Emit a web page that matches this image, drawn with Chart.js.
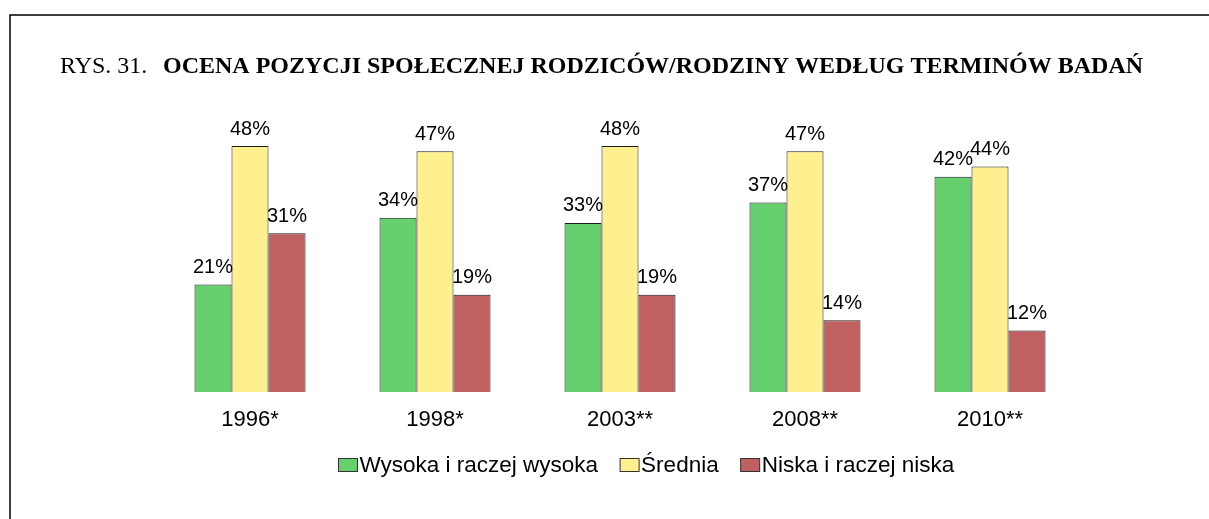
<!DOCTYPE html>
<html>
<head>
<meta charset="utf-8">
<script src="https://cdn.jsdelivr.net/npm/chart.js@4.4.1/dist/chart.umd.min.js"></script>
<style>
  html, body { margin: 0; padding: 0; background: #fff; }
  #chart1 { display: block; }
</style>
</head>
<body>
<canvas id="chart1" width="1209" height="519"></canvas>
<script>
// data
var years = ['1996*', '1998*', '2003**', '2008**', '2010**'];
var seriesNames = ['Wysoka i raczej wysoka', 'Średnia', 'Niska i raczej niska'];
var wysoka = [21, 34, 33, 37, 42];
var srednia = [48, 47, 48, 47, 44];
var niska = [31, 19, 19, 14, 12];

var colors = ['#66d06f', '#fff08f', '#c06060'];
var sans = '"Liberation Sans", Arial, sans-serif';
var serif = '"Liberation Serif", "Times New Roman", serif';

// frame, title, value labels and legend
var decorPlugin = {
    id: 'decor',
    afterDatasetsDraw: function(chart) {
        var c = chart.ctx;
        c.save();
        // value labels above bars
        c.font = '20px ' + sans;
        c.fillStyle = '#000';
        c.textAlign = 'center';
        c.textBaseline = 'alphabetic';
        chart.data.datasets.forEach(function(ds, i) {
            var meta = chart.getDatasetMeta(i);
            meta.data.forEach(function(bar, j) {
                c.fillText(ds.data[j] + '%', bar.x, bar.y - 11.5);
            });
        });
        c.restore();
    },
    afterDraw: function(chart) {
        var c = chart.ctx;
        c.save();
        // frame lines (top and left)
        c.strokeStyle = '#000';
        c.lineWidth = 1.5;
        c.beginPath();
        c.moveTo(1209, 15);
        c.lineTo(10, 15);
        c.lineTo(10, 519);
        c.stroke();

        // title
        c.fillStyle = '#000';
        c.textAlign = 'left';
        c.textBaseline = 'alphabetic';
        c.font = '24px ' + serif;
        c.fillText('RYS. 31.', 60, 72.5);
        c.font = 'bold 24px ' + serif;
        c.fillText('OCENA POZYCJI SPOŁECZNEJ RODZICÓW/RODZINY WEDŁUG TERMINÓW BADAŃ', 163, 72.5);

        // legend
        c.font = '22.5px ' + sans;
        c.textBaseline = 'alphabetic';
        var x = 338.5, y = 458.5;
        seriesNames.forEach(function(name, i) {
            c.fillStyle = colors[i];
            c.fillRect(x, y, 19, 13);
            c.strokeStyle = '#333';
            c.lineWidth = 1;
            c.strokeRect(x, y, 19, 13);
            c.fillStyle = '#000';
            c.fillText(name, x + 21, 472);
            x += 21 + c.measureText(name).width + 22;
        });
        c.restore();
    }
};

var config = {
    type: 'bar',
    data: {
        labels: years,
        datasets: [
            { label: seriesNames[0], data: wysoka, backgroundColor: colors[0] },
            { label: seriesNames[1], data: srednia, backgroundColor: colors[1] },
            { label: seriesNames[2], data: niska, backgroundColor: colors[2] }
        ].map(function(ds) {
            ds.borderColor = '#1a1a1a';
            ds.borderWidth = 1;
            ds.categoryPercentage = 0.6;
            ds.barPercentage = 1.0;
            return ds;
        })
    },
    options: {
        responsive: false,
        animation: false,
        events: [],
        layout: {
            padding: { left: 157.5, right: 126.5, top: 84.5, bottom: 67 }
        },
        plugins: {
            legend: { display: false },
            title: { display: false },
            tooltip: { enabled: false }
        },
        scales: {
            x: {
                grid: { display: false, drawTicks: false },
                border: { display: false },
                ticks: {
                    color: '#000',
                    padding: 15,
                    font: { family: sans, size: 22 }
                },
                afterFit: function(scale) { scale.height = 60; }
            },
            y: {
                display: false,
                min: 0,
                max: 60
            }
        }
    },
    plugins: [decorPlugin]
};

var chart1 = new Chart(document.getElementById('chart1'), config);
</script>
</body>
</html>
